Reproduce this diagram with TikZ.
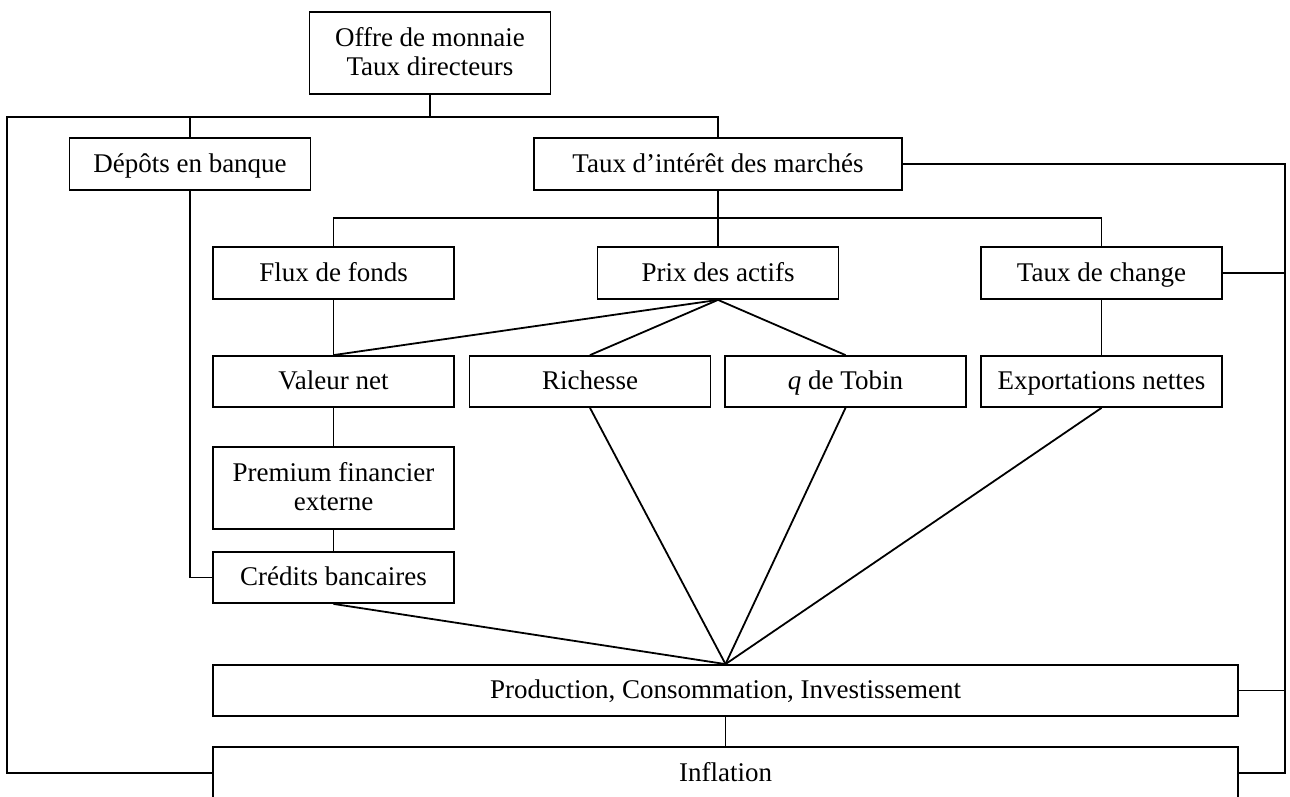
\documentclass[tikz,border=0pt]{standalone}
\usepackage{fontspec}
\setmainfont{Liberation Serif}
\begin{document}
\begin{tikzpicture}[x=1pt, y=-1pt, line width=1.8pt,
  boite/.style={draw, rectangle, align=center, inner sep=0pt, text height=16pt, text depth=0pt, minimum width=241pt, minimum height=52pt},
  double/.style={boite, text height=45pt, minimum height=82pt},
  font=\fontsize{27}{29}\selectfont]
\useasboundingbox (0,0) rectangle (1290,797);
\node[double] (offre) at (430,53) {Offre de monnaie\\Taux directeurs};
\node[boite] (depots) at (190,164) {Dépôts en banque};
\node[boite, minimum width=368pt] (interet) at (718,164) {Taux d’intérêt des marchés};
\node[boite] (flux) at (333.5,273) {Flux de fonds};
\node[boite] (prix) at (718,273) {Prix des actifs};
\node[boite] (change) at (1101.5,273) {Taux de change};
\node[boite, minimum height=51pt] (valeur) at (333.5,381.5) {Valeur net};
\node[boite, minimum height=51pt] (richesse) at (590,381.5) {Richesse};
\node[boite, minimum height=51pt] (tobin) at (845.5,381.5) {\textit{q} de Tobin};
\node[boite, minimum height=51pt] (export) at (1101.5,381.5) {Exportations nettes};
\node[double] (premium) at (333.5,488) {Premium financier\\externe};
\node[boite, minimum height=51pt] (credits) at (333.5,577.5) {Crédits bancaires};
\node[boite, minimum width=1025pt, minimum height=51pt] (production) at (725.5,690.5) {Production, Consommation, Investissement};
\node[boite, minimum width=1025pt] (inflation) at (725.5,773) {Inflation};
% points de jonction
\coordinate (bus1) at (430,117);
\coordinate (gauche) at (7,117);
\coordinate (droite) at (1285,164);
\coordinate (bus2) at (718,218);
\draw (offre) -- (bus1);
\draw (depots.north) |- (bus1) -| (interet.north);
\draw (depots.north) |- (gauche) |- (inflation.west);
\draw (interet.east) -- (droite) |- (inflation.east);
\draw (change.east) -| (droite);
\draw (production.east) -| (droite);
\draw (depots.south) |- (credits.west);
\draw (interet) -- (bus2);
\draw (flux.north) |- (bus2) -| (change.north);
\draw (bus2) -- (prix.north);
\draw (flux) -- (valeur);
\draw (valeur) -- (premium);
\draw (premium) -- (credits);
\draw (change) -- (export);
\draw (prix.south) -- (valeur.north);
\draw (prix.south) -- (richesse.north);
\draw (prix.south) -- (tobin.north);
\draw (credits.south) -- (production.north);
\draw (richesse.south) -- (production.north);
\draw (tobin.south) -- (production.north);
\draw (export.south) -- (production.north);
\draw (production) -- (inflation);
\end{tikzpicture}
\end{document}
